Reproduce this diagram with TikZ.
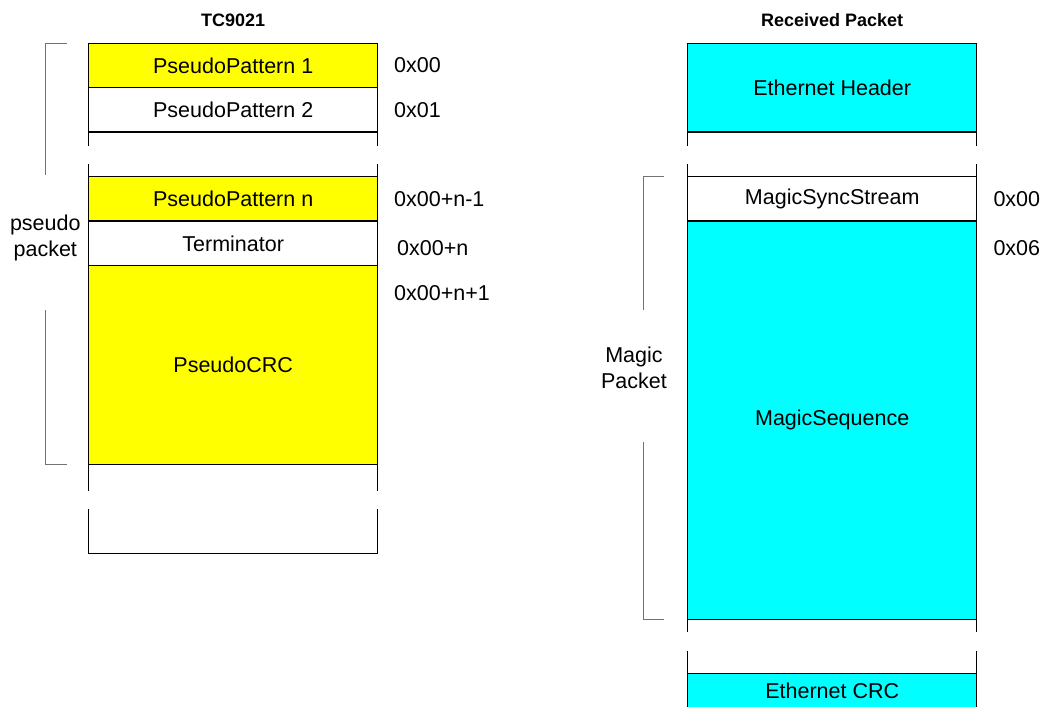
\documentclass[tikz,border=0pt]{standalone}
\usepackage{fontspec}
\setmainfont{Liberation Sans}
\usepackage{tikz}
\usetikzlibrary{positioning}
\definecolor{patyellow}{RGB}{255,255,0}
\definecolor{pktcyan}{RGB}{0,255,255}

\begin{document}
\begin{tikzpicture}[
      x=1pt, y=-1pt, font=\fontsize{21.5}{25.8}\selectfont,
      fld/.style={draw, line width=1.4pt, minimum width=289pt, inner sep=0pt, outer sep=0pt, anchor=north west},
      pat/.style={fld, fill=patyellow},
      pkt/.style={fld, fill=pktcyan},
      addr/.style={anchor=west, inner sep=0pt},
      ttl/.style={font=\fontsize{18}{21.6}\selectfont\bfseries, inner sep=0pt},
      lbl/.style={align=center, inner sep=0pt},
      brk/.style={draw=black!55, line width=1.2pt},
      open/.style={line width=1.4pt}]
    \useasboundingbox (0,0) rectangle (1042,707);
    \clip (0,0) rectangle (1042,707);
    % TC9021 side
    \node[pat, minimum height=44.4pt]  (pp1)  at (88.7,43.3)     {PseudoPattern 1};
    \node[fld, minimum height=44.3pt]  (pp2)  at (pp1.south west) {PseudoPattern 2};
    \node[pat, minimum height=44.3pt]  (ppn)  at (88.7,176.7)    {PseudoPattern n};
    \node[fld, minimum height=44.7pt]  (term) at (ppn.south west) {Terminator};
    \node[pat, minimum height=198.6pt] (crc)  at (term.south west) {PseudoCRC};
    \node[ttl, above=16.6pt of pp1] (ttlL) {TC9021};
    \draw[open] (pp2.south west) -- ++(0,13.7);
    \draw[open] (pp2.south east) -- ++(0,13.7);
    \draw[open] (ppn.north west) -- ++(0,-12.4);
    \draw[open] (ppn.north east) -- ++(0,-12.4);
    \draw[open] (crc.south west) -- ++(0,26.4);
    \draw[open] (crc.south east) -- ++(0,26.4);
    \draw[open] ([yshift=-45pt]crc.south west) |- ([yshift=-89pt]crc.south east) -- ([yshift=-45pt]crc.south east);
    \node[addr] (a1) at ([xshift=16.3pt]pp1.east) {0x00};
    \node[addr] (a2) at ([xshift=16.3pt]pp2.east) {0x01};
    \node[addr] (a3) at ([xshift=16.3pt]ppn.east) {0x00+n-1};
    \node[addr] (a4) at ([xshift=19.3pt,yshift=-27pt]term.north east) {0x00+n};
    \node[addr] (a5) at ([xshift=16.3pt,yshift=-27pt]crc.north east) {0x00+n+1};
    \node[lbl] (plbl) at (45.3,238) {pseudo\\packet};
    \coordinate (ptop) at (45.3,175);
    \coordinate (pbot) at (45.3,310);
    \draw[brk] ([xshift=-22pt]pp1.north west) -| (ptop);
    \draw[brk] (pbot) |- ([xshift=-22pt]crc.south west);
    % Received Packet side
    \node[pkt, minimum height=88.7pt]  (eth)  at (687.7,43.3)     {Ethernet Header};
    \node[fld, minimum height=44.3pt]  (sync) at (687.7,176.7)    {MagicSyncStream};
    \node[pkt, minimum height=398.7pt] (mseq) at (sync.south west) {MagicSequence};
    \node[pkt, minimum height=36pt]    (ecrc) at (687.7,673.3)    {Ethernet CRC};
    \node[ttl, above=16.6pt of eth] (ttlR) {Received Packet};
    \draw[open] (eth.south west) -- ++(0,13.7);
    \draw[open] (eth.south east) -- ++(0,13.7);
    \draw[open] (sync.north west) -- ++(0,-12.4);
    \draw[open] (sync.north east) -- ++(0,-12.4);
    \draw[open] (mseq.south west) -- ++(0,12.6);
    \draw[open] (mseq.south east) -- ++(0,12.6);
    \draw[open] (ecrc.north west) -- ++(0,-22.3);
    \draw[open] (ecrc.north east) -- ++(0,-22.3);
    \node[addr] (a6) at ([xshift=16.6pt]sync.east) {0x00};
    \node[addr] (a7) at ([xshift=16.6pt,yshift=-27pt]mseq.north east) {0x06};
    \node[lbl] (mlbl) at (634,368) {Magic\\Packet};
    \coordinate (mtop) at (643.3,310);
    \coordinate (mbot) at (643.3,442.3);
    \draw[brk] ([xshift=-23.4pt]sync.north west) -| (mtop);
    \draw[brk] (mbot) |- ([xshift=-23.4pt]mseq.south west);
  \end{tikzpicture}
\end{document}
